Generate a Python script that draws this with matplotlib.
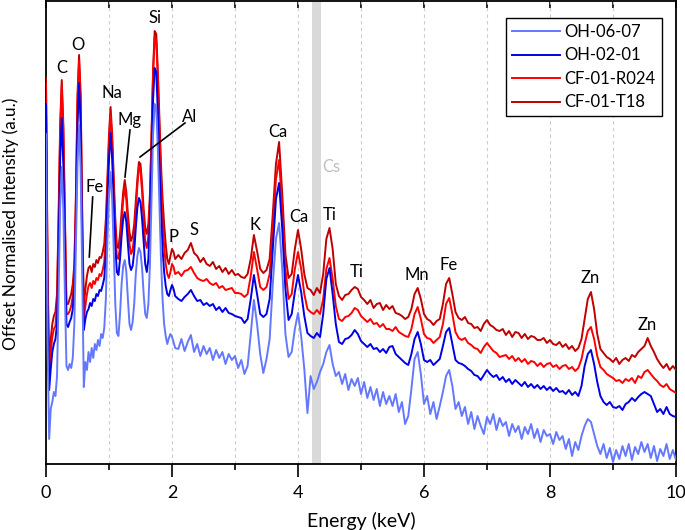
import numpy as np
import matplotlib
matplotlib.use("Agg")
import matplotlib.pyplot as plt

plt.rcParams['font.family'] = ['Lato', 'DejaVu Sans']

# Energy channels (keV): fine sampling below 2.05 keV, coarser above
energy_low = np.round(np.arange(0, 2.051, 0.025), 3)
energy_high = np.round(np.arange(2.1, 10.001, 0.05), 3)

# ---- CF-01-T18 ----
t18_low = [386, 200, 87, 125, 140, 148, 152, 170, 250, 340,
           384, 340, 250, 160, 160, 165, 170, 180, 200, 270,
           370, 409, 370, 250, 158, 175, 188, 196, 198, 192,
           200, 197, 204, 201, 207, 206, 212, 220, 245, 286,
           330, 357, 330, 286, 245, 218, 216, 230, 252, 272,
           284, 272, 250, 232, 223, 228, 240, 262, 285, 302,
           300, 280, 255, 236, 230, 240, 270, 330, 395, 433,
           430, 393, 345, 300, 265, 240, 220, 205, 200, 208,
           215, 212, 205]
t18_high = [209, 205, 211, 214, 221, 211, 208, 202, 206, 200,
            198, 202, 195, 198, 192, 196, 190, 194, 189, 190,
            187, 186, 190, 205, 229, 213, 195, 191, 194, 205,
            250, 300, 322, 270, 210, 186, 190, 215, 234, 215,
            190, 176, 174, 169, 176, 171, 190, 225, 236, 215,
            180, 168, 164, 169, 170, 174, 177, 175, 167, 164,
            160, 164, 156, 160, 161, 154, 159, 155, 158, 151,
            150, 148, 145, 147, 155, 170, 176, 165, 150, 145,
            143, 139, 143, 145, 160, 180, 186, 170, 152, 146,
            144, 147, 141, 140, 136, 137, 133, 140, 144, 139,
            137, 134, 133, 135, 129, 133, 127, 132, 131, 126,
            130, 125, 128, 127, 124, 124, 126, 121, 124, 120,
            119, 122, 117, 120, 115, 118, 113, 116, 125, 145,
            165, 172, 155, 130, 115, 111, 107, 105, 102, 106,
            100, 104, 106, 103, 109, 107, 112, 115, 118, 126,
            118, 112, 105, 100, 96, 100, 94, 98, 94]

# ---- CF-01-R024 ----
r024_low = [380, 190, 85, 112, 127, 135, 138, 160, 240, 332,
            378, 333, 240, 150, 150, 153, 158, 168, 192, 262,
            362, 403, 362, 240, 146, 158, 170, 178, 181, 176,
            183, 180, 186, 184, 190, 188, 194, 202, 228, 275,
            322, 350, 322, 275, 232, 207, 205, 218, 242, 264,
            277, 264, 240, 220, 210, 214, 228, 252, 278, 297,
            294, 272, 244, 222, 216, 228, 262, 325, 390, 427,
            423, 385, 335, 285, 245, 218, 200, 190, 186, 192,
            200, 197, 190]
r024_high = [192, 188, 193, 194, 197, 191, 186, 184, 183, 185,
             181, 179, 181, 176, 178, 174, 175, 176, 171, 171,
             170, 167, 170, 188, 212, 195, 177, 174, 177, 190,
             235, 285, 304, 255, 195, 165, 170, 195, 212, 195,
             170, 155, 152, 150, 154, 150, 165, 195, 206, 185,
             158, 145, 143, 147, 148, 151, 156, 154, 148, 145,
             142, 145, 140, 141, 137, 140, 135, 135, 133, 137,
             132, 130, 128, 127, 135, 150, 157, 145, 130, 126,
             125, 121, 124, 127, 140, 160, 166, 150, 132, 126,
             124, 126, 121, 119, 116, 115, 111, 117, 121, 117,
             113, 111, 107, 108, 109, 105, 108, 103, 106, 102,
             105, 100, 103, 102, 98, 101, 97, 100, 101, 97,
             99, 95, 98, 99, 95, 97, 93, 96, 105, 120,
             133, 137, 125, 108, 97, 94, 90, 88, 86, 83,
             84, 81, 85, 83, 86, 81, 88, 86, 92, 94,
             90, 86, 83, 79, 77, 80, 75, 73, 71]

# ---- OH-02-01 ----
oh0201_low = [360, 160, 74, 95, 112, 120, 125, 140, 215, 305,
              346, 300, 215, 140, 137, 142, 146, 155, 180, 245,
              340, 381, 340, 220, 134, 145, 152, 155, 161, 158,
              165, 163, 170, 168, 174, 173, 179, 186, 210, 265,
              305, 331, 305, 262, 218, 192, 189, 205, 228, 245,
              252, 242, 220, 200, 194, 198, 212, 236, 256, 266,
              262, 245, 222, 200, 192, 205, 245, 305, 365, 396,
              392, 352, 300, 255, 215, 192, 178, 170, 168, 174,
              179, 175, 168]
oh0201_high = [165, 163, 167, 170, 174, 168, 163, 164, 159, 161,
               158, 160, 154, 157, 152, 156, 151, 150, 148, 147,
               146, 141, 145, 165, 189, 170, 150, 147, 150, 165,
               215, 265, 281, 235, 175, 144, 150, 172, 189, 172,
               148, 131, 128, 126, 131, 127, 150, 185, 196, 170,
               140, 122, 120, 125, 126, 129, 134, 130, 123, 120,
               117, 120, 115, 116, 112, 115, 111, 117, 118, 110,
               107, 104, 101, 99, 110, 125, 132, 120, 104, 102,
               104, 99, 102, 105, 118, 132, 136, 120, 104, 101,
               100, 98, 95, 93, 89, 88, 84, 89, 94, 90,
               87, 89, 84, 87, 82, 85, 80, 84, 81, 78,
               82, 77, 80, 76, 79, 75, 78, 74, 77, 73,
               76, 72, 73, 70, 74, 69, 72, 68, 78, 98,
               110, 114, 100, 82, 68, 62, 59, 62, 57, 56,
               58, 54, 60, 62, 66, 63, 67, 70, 72, 70,
               68, 60, 52, 55, 50, 57, 50, 48, 47]

# ---- OH-06-07 ----
oh0607_low = [330, 120, 25, 55, 62, 72, 68, 88, 170, 258,
              297, 255, 170, 98, 94, 100, 96, 106, 140, 220,
              300, 339, 295, 190, 77, 102, 94, 112, 102, 116,
              106, 120, 114, 124, 118, 130, 126, 136, 165, 225,
              268, 292, 265, 215, 160, 131, 128, 150, 180, 198,
              204, 192, 165, 140, 134, 142, 160, 190, 208, 216,
              212, 196, 170, 150, 146, 160, 200, 265, 330, 360,
              356, 315, 260, 205, 165, 140, 128, 120, 126, 130,
              127, 122, 116]
oh0607_high = [115, 125, 113, 122, 129, 112, 120, 108, 118, 110,
               116, 104, 114, 106, 112, 100, 110, 104, 108, 96,
               104, 90, 98, 130, 164, 140, 110, 91, 105, 125,
               180, 225, 241, 195, 130, 107, 112, 135, 151, 128,
               95, 51, 88, 75, 82, 92, 100, 112, 119, 100,
               88, 92, 80, 90, 74, 85, 78, 86, 70, 82,
               66, 77, 64, 75, 58, 72, 60, 68, 58, 70,
               52, 62, 40, 48, 75, 105, 112, 90, 60, 68,
               50, 62, 45, 58, 72, 88, 94, 78, 55, 62,
               48, 57, 40, 52, 35, 48, 38, 30, 47, 40,
               50, 34, 46, 38, 42, 28, 40, 32, 38, 25,
               37, 30, 40, 26, 35, 22, 34, 28, 30, 20,
               32, 24, 28, 15, 25, 8, 22, 14, 28, 38,
               45, 42, 30, 18, 10, 20, 6, 16, 2, 14,
               5, 18, 8, 20, 4, 17, 10, 22, 12, 20,
               6, 18, 3, 15, 8, 20, 5, 14, 4]

series_names = ['OH-06-07', 'OH-02-01', 'CF-01-R024', 'CF-01-T18']
series_colors = ['#6478ff', '#0000e6', '#ff0000', '#c00000']
series_data = [(oh0607_low, oh0607_high), (oh0201_low, oh0201_high),
               (r024_low, r024_high), (t18_low, t18_high)]

# Peak labels: (text, energy, height)
peak_labels = ['C', 'O', 'Na', 'Mg', 'Al', 'Si', 'Fe', 'P', 'S', 'K', 'Ca', 'Ca',
               'Ti', 'Ti', 'Mn', 'Fe', 'Zn', 'Zn']
peak_x = [0.254, 0.508, 1.048, 1.333, 2.286, 1.730, 0.778, 2.016, 2.349, 3.317,
          3.683, 4.016, 4.508, 4.937, 5.889, 6.397, 8.635, 9.54]
peak_y = [396, 419, 371, 344, 347, 446, 277, 227, 234, 239,
          332, 247, 249, 192, 189, 199, 186, 139]

energy = np.concatenate([energy_low, energy_high])

fig = plt.figure(figsize=(6.85, 5.30), dpi=100)
ax = fig.add_axes([46 / 685, 66 / 530, 630 / 685, 463 / 530])

ax.axvspan(4.22, 4.36, color='#d9d9d9', zorder=0, lw=0)
for g in range(1, 10):
    ax.axvline(g, color='#cccccc', lw=0.8, ls=(0, (3, 3)), zorder=0.5)

for i, (name, col, (lo, hi)) in enumerate(zip(series_names, series_colors, series_data)):
    y = np.concatenate([lo, hi])
    assert len(y) == len(energy), (name, len(lo), len(hi))
    ax.plot(energy, y, color=col, lw=1.4, label=name, zorder=10 - i)

for t, xx, yy in zip(peak_labels, peak_x, peak_y):
    ax.text(xx, yy, t, ha='center', va='center', fontsize=12, color='black', zorder=20)
ax.text(4.524, 297, 'Cs', ha='center', va='center', fontsize=12, color='#bfbfbf', zorder=20)

# leader lines
ax.plot([0.741, 0.687], [267, 207], color='black', lw=1.2, zorder=20)
ax.plot([1.333, 1.254], [334, 287], color='black', lw=1.2, zorder=20)
ax.plot([2.206, 1.492], [341, 307], color='black', lw=1.2, zorder=20)

ax.set_xlim(0, 10)
ax.set_ylim(0, 463)
ax.set_yticks([])
ax.set_xticks(range(0, 11, 2))
ax.set_xticks(range(1, 10, 2), minor=True)
ax.tick_params(axis='x', which='major', direction='out', length=9, width=1.2, labelsize=13, pad=6)
ax.tick_params(axis='x', which='minor', direction='out', length=4, width=1.2)
for s in ax.spines.values():
    s.set_linewidth(1.3)
    s.set_color('black')

top = ax.secondary_xaxis('top')
top.set_xticks(range(0, 11))
top.set_xticklabels([])
top.tick_params(direction='in', length=5, width=1.2)
top.spines['top'].set_visible(False)

ax.set_xlabel('Energy (keV)', fontsize=14, labelpad=8)
ax.set_ylabel('Offset Normalised Intensity (a.u.)', fontsize=12.5)
ax.yaxis.set_label_coords(-0.043, 0.518)

leg = ax.legend(loc='upper right', bbox_to_anchor=(0.977, 0.963), fontsize=12,
                frameon=True, fancybox=False, edgecolor='black', framealpha=1,
                handlelength=2.9, labelspacing=0.45, borderpad=0.35, handletextpad=0.25,
                borderaxespad=0.0)
leg.get_frame().set_linewidth(1.0)

fig.savefig('out.png', dpi=100)
